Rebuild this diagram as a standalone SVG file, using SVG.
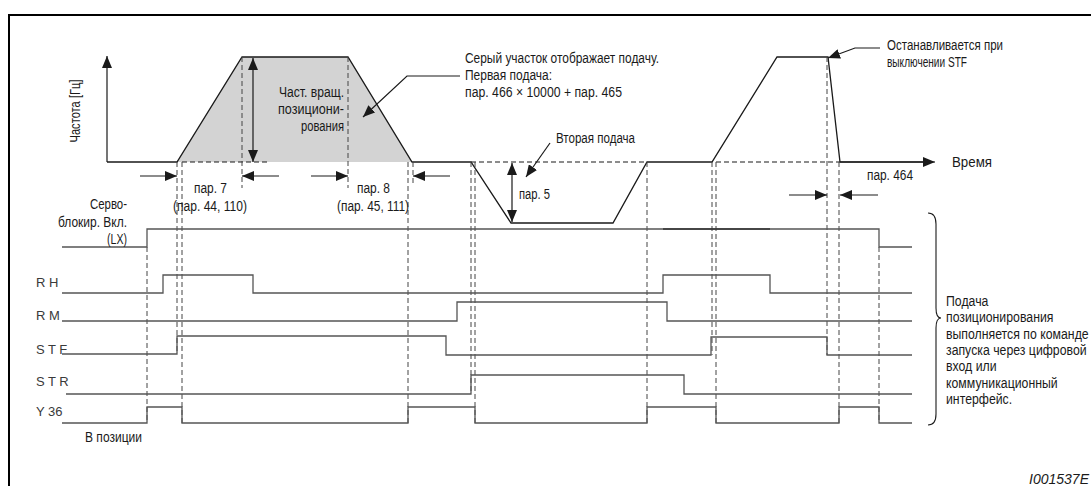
<svg xmlns="http://www.w3.org/2000/svg" width="1091" height="486" viewBox="0 0 1091 486">
<defs>
<style>
.t{font-family:"Liberation Sans Narrow","Liberation Sans",Arial,sans-serif;font-size:14px;fill:#1a1a1a}
.tb{font-family:"Liberation Sans Narrow","Liberation Sans",Arial,sans-serif;font-size:15px;fill:#1a1a1a}
.sig{font-family:"Liberation Sans",Arial,sans-serif;font-size:13px;fill:#3a3a3a}
.id{font-family:"Liberation Sans",Arial,sans-serif;font-size:14px;font-style:italic;fill:#1a1a1a}
.ln{fill:none;stroke:#1a1a1a;stroke-width:1.3}
.sg{fill:none;stroke:#555;stroke-width:1.3}
.ds{fill:none;stroke:#444;stroke-width:1;stroke-dasharray:5 3}
.dsb{fill:none;stroke:#1a1a1a;stroke-width:1.2;stroke-dasharray:5 3}
.ar{fill:none;stroke:#1a1a1a;stroke-width:1.2}
</style>
<marker id="ah" markerWidth="13" markerHeight="10" refX="12" refY="5" orient="auto-start-reverse" markerUnits="userSpaceOnUse">
<path d="M0,0 L12,5 L0,10 z" fill="#1a1a1a"/>
</marker>
</defs>
<rect width="1091" height="486" fill="#fff"/>
<g id="frame">
<path d="M9,486 V15 H1091" fill="none" stroke="#000" stroke-width="2"/>
</g>
<g id="freq-chart">
<polygon points="177,162 242,57 348,57 412,162" fill="#d3d3d3"/>
<path class="ln" d="M107,162 H177 L242,57 H348 L412,162 H471 L511,223 H613 L647,162 H712 L777,57 H828 L840,162 H924"/>
<path class="dsb" d="M182,162 H270 M471,162 H647 M716,162 H840"/>
<line class="ar" x1="107" y1="162" x2="107" y2="56" marker-end="url(#ah)"/>
<line class="ar" x1="840" y1="162" x2="935" y2="162" marker-end="url(#ah)"/>
<line class="ar" x1="253" y1="58" x2="253" y2="162" marker-start="url(#ah)" marker-end="url(#ah)"/>
<line class="ar" x1="512" y1="163" x2="512" y2="222" marker-start="url(#ah)" marker-end="url(#ah)"/>
</g>
<g id="connectors">
<g id="dashed-guides">
<path class="ds" d="M147,247 V423 M177,162 V354 M182,162 V423 M242,57 V188 M348,57 V188 M408,162 V423 M413,162 V186 M471,162 V394 M475,162 V423 M647,162 V423 M712,162 V355 M716,162 V423 M827,57 V355 M839,162 V423 M879,247 V423"/>
</g>
<g id="dimension-arrows">
<line class="ar" x1="140" y1="176" x2="177" y2="176" marker-end="url(#ah)"/>
<line class="ar" x1="279" y1="176" x2="242" y2="176" marker-end="url(#ah)"/>
<line class="ar" x1="311" y1="176" x2="348" y2="176" marker-end="url(#ah)"/>
<line class="ar" x1="450" y1="176" x2="413" y2="176" marker-end="url(#ah)"/>
<line class="ar" x1="789" y1="195" x2="827" y2="195" marker-end="url(#ah)"/>
<line class="ar" x1="878" y1="195" x2="840" y2="195" marker-end="url(#ah)"/>
</g>
<g id="leaders">
<polyline class="ar" points="460,76 407,76 363,117" marker-end="url(#ah)"/>
<line class="ar" x1="550" y1="143" x2="526" y2="177" marker-end="url(#ah)"/>
<polyline class="ar" points="880,48 855,48 828,58" marker-end="url(#ah)"/>
</g>
<path id="brace" d="M928,213 Q936,213 936,224 V308 Q936,318 941,318 Q936,318 936,328 V414 Q936,425 928,425" fill="none" stroke="#1a1a1a" stroke-width="1.1"/>
</g>
<g id="signals">
<path class="sg" d="M62,247 H147 V229 H879 V247 H912"/>
<path d="M663,229 H770" stroke="#333" stroke-width="1.5"/>
<path class="sg" d="M62,293 H163 V275 H253 V293 H663 V275 H770 V293 H912"/>
<path class="sg" d="M62,321 H457 V302 H667 V321 H912"/>
<path class="sg" d="M62,354 H177 V336 H446 V355 H711 V337 H827 V355 H912"/>
<path class="sg" d="M66,394 H471 V375 H684 V394 H912"/>
<path class="sg" d="M62,423 H147 V407 H182 V423 H408 V407 H475 V423 H647 V407 H716 V423 H839 V407 H879 V423 H912"/>
</g>
<g id="labels">
<text class="t" transform="translate(80,111) rotate(-90)" text-anchor="middle" textLength="63" lengthAdjust="spacingAndGlyphs">Частота [Гц]</text>
<text class="t" x="279" y="97" textLength="65" lengthAdjust="spacingAndGlyphs">Част. вращ.</text>
<text class="t" x="278" y="114" textLength="66" lengthAdjust="spacingAndGlyphs">позициони-</text>
<text class="t" x="301" y="131" textLength="43" lengthAdjust="spacingAndGlyphs">рования</text>
<text class="t" x="194" y="193" textLength="33" lengthAdjust="spacingAndGlyphs">пар. 7</text>
<text class="t" x="173" y="211" textLength="74" lengthAdjust="spacingAndGlyphs">(пар. 44, 110)</text>
<text class="t" x="357" y="193" textLength="33" lengthAdjust="spacingAndGlyphs">пар. 8</text>
<text class="t" x="337" y="211" textLength="72" lengthAdjust="spacingAndGlyphs">(пар. 45, 111)</text>
<text class="t" x="465" y="63" textLength="194" lengthAdjust="spacingAndGlyphs">Серый участок отображает подачу.</text>
<text class="t" x="465" y="80" textLength="87" lengthAdjust="spacingAndGlyphs">Первая подача:</text>
<text class="t" x="465" y="97" textLength="157" lengthAdjust="spacingAndGlyphs">пар. 466 × 10000 + пар. 465</text>
<text class="t" x="556" y="143" textLength="79" lengthAdjust="spacingAndGlyphs">Вторая подача</text>
<text class="t" x="519" y="199" textLength="31" lengthAdjust="spacingAndGlyphs">пар. 5</text>
<text class="t" x="887" y="50" textLength="116" lengthAdjust="spacingAndGlyphs">Останавливается при</text>
<text class="t" x="887" y="67" textLength="80" lengthAdjust="spacingAndGlyphs">выключении STF</text>
<text class="t" x="952" y="167" textLength="40" lengthAdjust="spacingAndGlyphs">Время</text>
<text class="t" x="867" y="180" textLength="46" lengthAdjust="spacingAndGlyphs">пар. 464</text>
<text class="t" x="90" y="209" textLength="37" lengthAdjust="spacingAndGlyphs">Серво-</text>
<text class="t" x="58" y="227" textLength="69" lengthAdjust="spacingAndGlyphs">блокир. Вкл.</text>
<text class="t" x="107" y="244" textLength="20" lengthAdjust="spacingAndGlyphs">(LX)</text>
<text class="t" x="85" y="442" textLength="57" lengthAdjust="spacingAndGlyphs">В позиции</text>
<text class="sig" x="36" y="287">R H</text>
<text class="sig" x="36" y="320">R M</text>
<text class="sig" x="36" y="354">S T F</text>
<text class="sig" x="36" y="386">S T R</text>
<text class="sig" x="36" y="416">Y 36</text>
<g id="brace-note" transform="translate(946,0) scale(0.82,1)">
<text class="tb" x="0" y="306">Подача</text>
<text class="tb" x="0" y="322">позиционирования</text>
<text class="tb" x="0" y="339">выполняется по команде</text>
<text class="tb" x="0" y="355">запуска через цифровой</text>
<text class="tb" x="0" y="371">вход или</text>
<text class="tb" x="0" y="388">коммуникационный</text>
<text class="tb" x="0" y="404">интерфейс.</text>
</g>
<text class="id" x="1089" y="484" text-anchor="end">I001537E</text>
</g>
</svg>
